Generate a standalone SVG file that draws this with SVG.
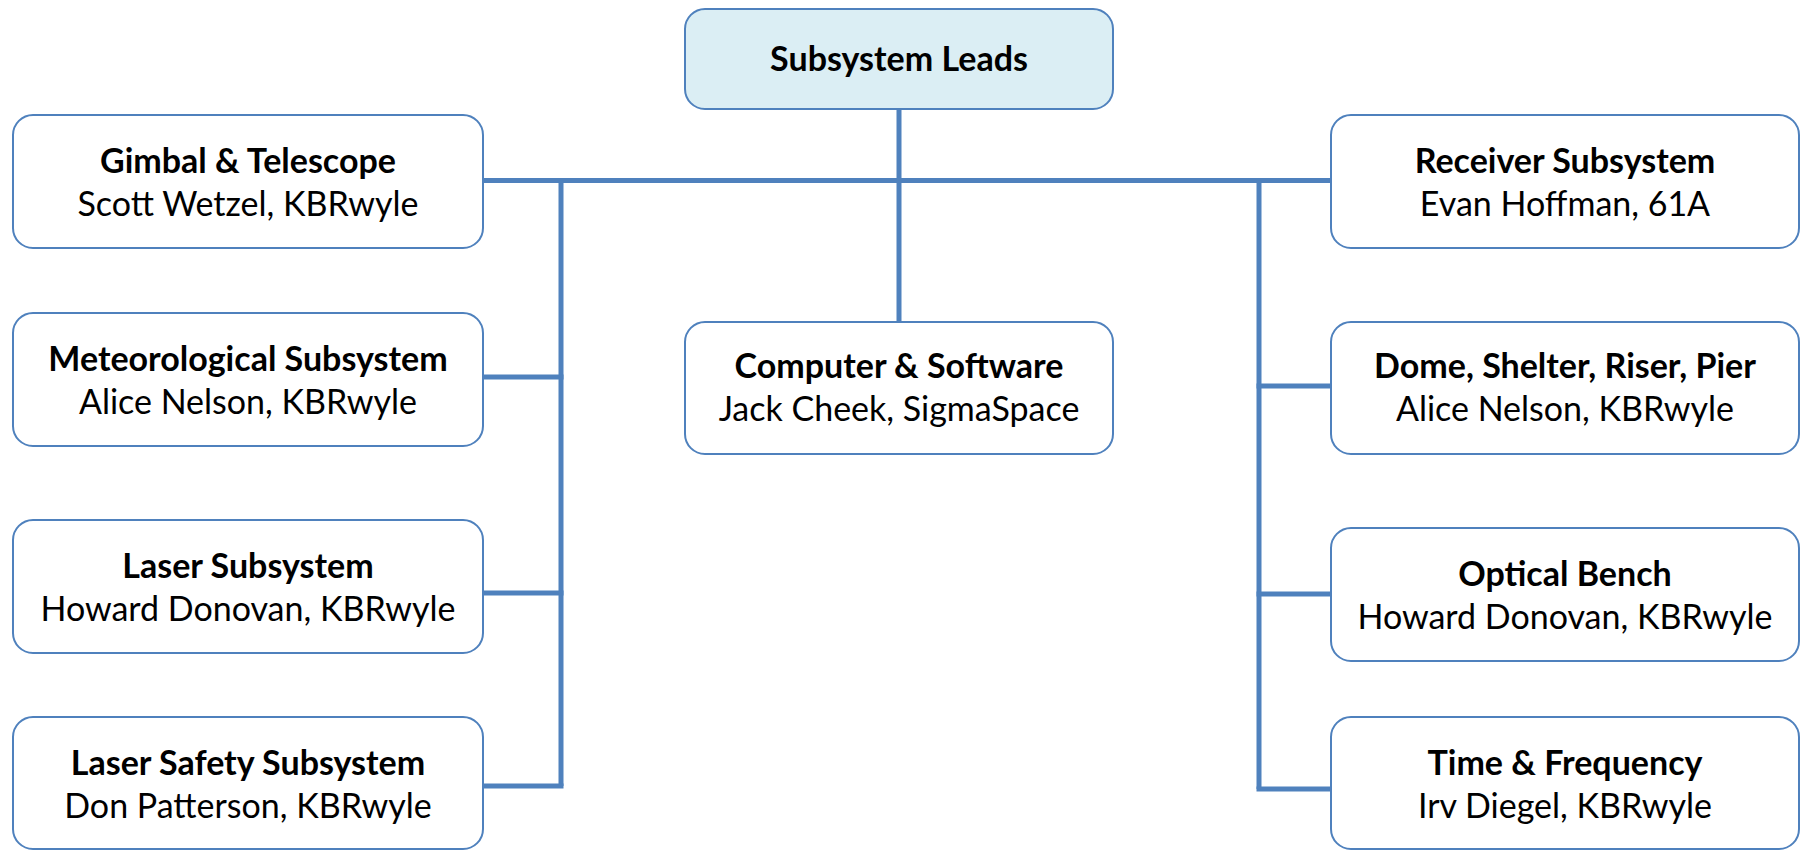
<svg xmlns="http://www.w3.org/2000/svg" width="1803" height="850" viewBox="0 0 1803 850">
<style>
.box{fill:#ffffff;stroke:#4F81BD;stroke-width:2}
.root{fill:#DBEEF4;stroke:#4F81BD;stroke-width:2}
.conn{stroke:#4F81BD;stroke-width:5;fill:none;stroke-linecap:butt}
text{font-family:Lato,"Open Sans","Liberation Sans",sans-serif;font-size:34px;fill:#000;text-anchor:middle}
.t{font-weight:bold}
</style>
<rect width="1803" height="850" fill="#ffffff"/>
<g id="connectors">
<path class="conn" d="M899,109 V322"/>
<path class="conn" d="M483,180.5 H1331"/>
<path class="conn" d="M561,180.5 V786"/>
<path class="conn" d="M483,377 H563.5"/>
<path class="conn" d="M483,593 H563.5"/>
<path class="conn" d="M483,786 H563.5"/>
<path class="conn" d="M1259,180.5 V789"/>
<path class="conn" d="M1256.5,386 H1331"/>
<path class="conn" d="M1256.5,594 H1331"/>
<path class="conn" d="M1256.5,789 H1331"/>
</g>
<g id="subsystem-leads">
<rect class="root" x="685" y="9" width="428" height="100" rx="20"/>
<text class="t" x="899" y="71">Subsystem Leads</text>
</g>
<g id="gimbal">
<rect class="box" x="13" y="115" width="470" height="133" rx="20"/>
<text class="t" x="248" y="173">Gimbal &amp; Telescope</text>
<text x="248" y="216">Scott Wetzel, KBRwyle</text>
</g>
<g id="meteorological">
<rect class="box" x="13" y="313" width="470" height="133" rx="20"/>
<text class="t" x="248" y="371">Meteorological Subsystem</text>
<text x="248" y="414">Alice Nelson, KBRwyle</text>
</g>
<g id="laser">
<rect class="box" x="13" y="520" width="470" height="133" rx="20"/>
<text class="t" x="248" y="578">Laser Subsystem</text>
<text x="248" y="621">Howard Donovan, KBRwyle</text>
</g>
<g id="laser-safety">
<rect class="box" x="13" y="717" width="470" height="132" rx="20"/>
<text class="t" x="248" y="775">Laser Safety Subsystem</text>
<text x="248" y="818">Don Patterson, KBRwyle</text>
</g>
<g id="computer">
<rect class="box" x="685" y="322" width="428" height="132" rx="20"/>
<text class="t" x="899" y="378">Computer &amp; Software</text>
<text x="899" y="421">Jack Cheek, SigmaSpace</text>
</g>
<g id="receiver">
<rect class="box" x="1331" y="115" width="468" height="133" rx="20"/>
<text class="t" x="1565" y="173">Receiver Subsystem</text>
<text x="1565" y="216">Evan Hoffman, 61A</text>
</g>
<g id="dome">
<rect class="box" x="1331" y="322" width="468" height="132" rx="20"/>
<text class="t" x="1565" y="378">Dome, Shelter, Riser, Pier</text>
<text x="1565" y="421">Alice Nelson, KBRwyle</text>
</g>
<g id="optical">
<rect class="box" x="1331" y="528" width="468" height="133" rx="20"/>
<text class="t" x="1565" y="586">Optical Bench</text>
<text x="1565" y="629">Howard Donovan, KBRwyle</text>
</g>
<g id="time">
<rect class="box" x="1331" y="717" width="468" height="132" rx="20"/>
<text class="t" x="1565" y="775">Time &amp; Frequency</text>
<text x="1565" y="818">Irv Diegel, KBRwyle</text>
</g>
</svg>
